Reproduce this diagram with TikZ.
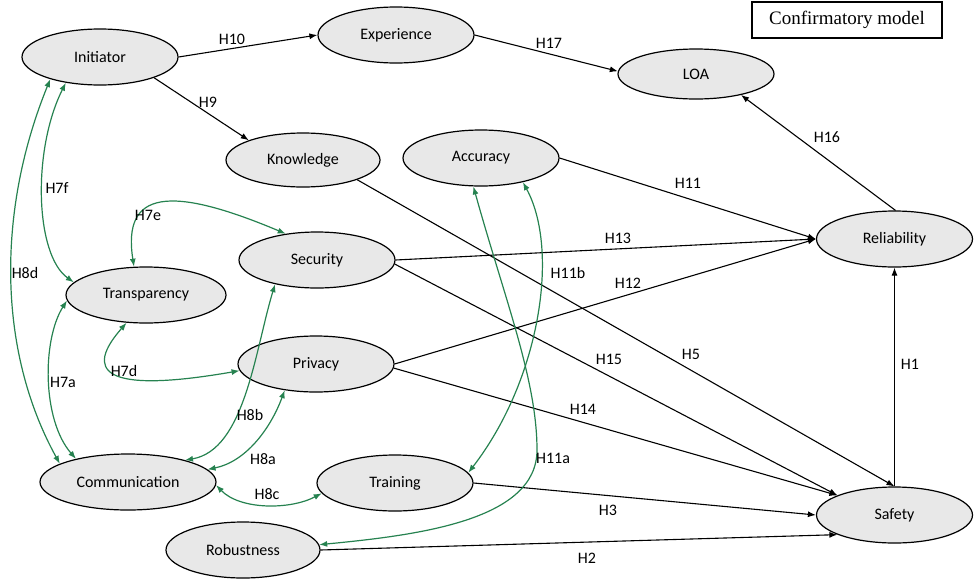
\documentclass[tikz,border=0pt]{standalone}
\usepackage{fontspec}
\setmainfont{Carlito}
\newfontfamily\boxfont{Liberation Serif}
\usetikzlibrary{shapes.geometric,arrows.meta}
\definecolor{hgreen}{RGB}{38,130,80}
\definecolor{efill}{RGB}{232,232,232}
\begin{document}
\begin{tikzpicture}[x=1pt,y=-1pt,
  construct/.style={ellipse, draw=black, line width=1.2pt, fill=efill,
    minimum width=156pt, minimum height=56pt, inner sep=0pt,
    font=\fontsize{16}{19}\selectfont},
  lab/.style={font=\fontsize{16}{19}\selectfont, inner sep=1pt},
  blk/.style={draw=black, line width=1.1pt, -{Latex[length=8pt,width=6pt]}},
  grn/.style={draw=hgreen, line width=1.2pt,
    {Latex[length=8pt,width=6pt]}-{Latex[length=8pt,width=6pt]}}]
\useasboundingbox (0,0) rectangle (975,579);

% constructs
\node[construct] (Initiator) at (100,57) {Initiator};
\node[construct] (Experience) at (396,35) {Experience};
\node[construct, minimum height=50pt] (LOA) at (696,74) {LOA};
\node[construct, minimum width=154pt, minimum height=54pt] (Knowledge) at (303,160) {Knowledge};
\node[construct] (Accuracy) at (481,158) {Accuracy};
\node[construct] (Reliability) at (894.5,239) {Reliability};
\node[construct] (Security) at (317,260) {Security};
\node[construct, minimum width=160pt] (Transparency) at (146,295) {Transparency};
\node[construct] (Privacy) at (316,364) {Privacy};
\node[construct, minimum width=176pt] (Communication) at (128,482) {Communication};
\node[construct] (Training) at (395,483) {Training};
\node[construct, minimum width=154pt] (Robustness) at (243,550) {Robustness};
\node[construct] (Safety) at (894.5,515) {Safety};

% title box
\node[draw=black, line width=1.1pt, minimum width=190pt, minimum height=36pt,
  inner sep=0pt, font=\boxfont\fontsize{19}{22}\selectfont] (title) at (847,20) {Confirmatory model};

% black paths
\draw[blk] (Initiator.east) -- (Experience.west);
\draw[blk] (Initiator.-21) -- (Knowledge.160);
\draw[blk] (Experience.east) -- (LOA.178);
\draw[blk] (Reliability.88) -- (LOA.-25);
\draw[blk] (Accuracy.east) -- (Reliability.west);
\draw[blk] (Security.east) -- (Reliability.west);
\draw[blk] (Privacy.east) -- (Reliability.west);
\draw[blk] (Knowledge.-20) -- (Safety.north);
\draw[blk] (Security.-3) -- (Safety.161);
\draw[blk] (Privacy.-3) -- (Safety.161);
\draw[blk] (Training.east) -- (Safety.west);
\draw[blk] (Robustness.east) -- (Safety.-161);
\draw[blk, line width=1pt] (Safety.north) -- (Reliability.south);

% green correlations
\draw[grn] (Initiator.-156) .. controls (-3,210) and (-3,350) .. (Communication.165);
\draw[grn] (Initiator.-143) .. controls (32,150) and (35,255) .. (Transparency.170);
\draw[grn] (Transparency.-176) .. controls (42,340) and (42,420) .. (Communication.156);
\draw[grn] (Transparency.113) .. controls (122,190) and (170,185) .. (Security.140);
\draw[grn] (Transparency.-125) .. controls (85,370) and (100,395) .. (Privacy.-175);
\draw[grn] (Security.-150) .. controls (255,350) and (245,450) .. (Communication.21);
\draw[grn] (Privacy.-140) .. controls (270,430) and (245,462) .. (Communication.9);
\draw[grn] (Communication.-2) .. controls (240,510) and (290,510) .. (Training.-172);
\draw[grn] (Accuracy.-30) .. controls (560,250) and (540,380) .. (Training.8);
\draw[grn] (Accuracy.-105) .. controls (505,300) and (537,380) .. (537,450)
  .. controls (537,520) and (420,535) .. (Robustness.4);

% labels
\node[lab] (lH10) at (232,39) {H10};
\node[lab] (lH9) at (208,102) {H9};
\node[lab] (lH17) at (549,43) {H17};
\node[lab] (lH16) at (827,137) {H16};
\node[lab] (lH11) at (688,183) {H11};
\node[lab] (lH13) at (618,238) {H13};
\node[lab] (lH12) at (628,283) {H12};
\node[lab] (lH11b) at (568,273) {H11b};
\node[lab] (lH15) at (609,359) {H15};
\node[lab] (lH14) at (583,409) {H14};
\node[lab] (lH5) at (691,354) {H5};
\node[lab] (lH1) at (910,364) {H1};
\node[lab] (lH11a) at (553,458) {H11a};
\node[lab] (lH3) at (608,510) {H3};
\node[lab] (lH2) at (587,558) {H2};
\node[lab] (lH8b) at (250,415) {H8b};
\node[lab] (lH8a) at (263,459) {H8a};
\node[lab] (lH8c) at (267,494) {H8c};
\node[lab] (lH7f) at (57,188) {H7f};
\node[lab] (lH8d) at (25,273) {H8d};
\node[lab] (lH7a) at (63,382) {H7a};
\node[lab] (lH7e) at (148,215) {H7e};
\node[lab] (lH7d) at (124,371) {H7d};
\end{tikzpicture}
\end{document}
